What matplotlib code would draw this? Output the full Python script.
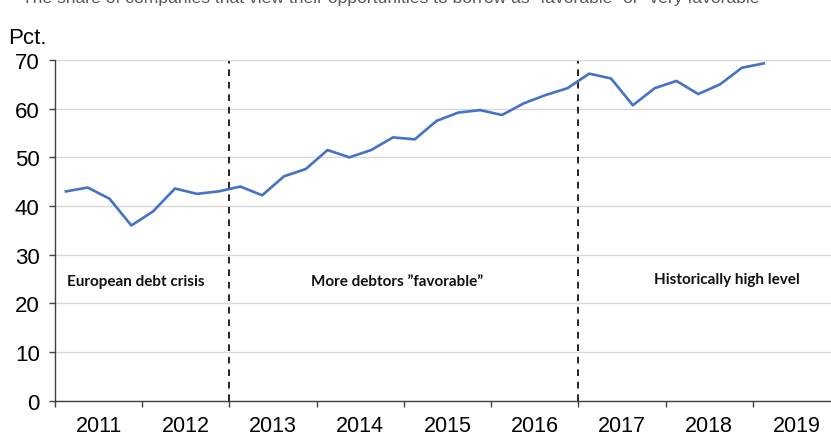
import matplotlib
matplotlib.use('Agg')
import matplotlib.pyplot as plt
import numpy as np

# quarterly share of companies, 2011Q1 - 2019Q1
share = [43.0, 43.8, 41.5, 36.0, 38.9, 43.6, 42.5, 43.0,
         44.0, 42.2, 46.1, 47.6, 51.5, 50.0, 51.5, 54.1,
         53.7, 57.5, 59.2, 59.7, 58.7, 61.1, 62.8, 64.2,
         67.2, 66.2, 60.7, 64.2, 65.7, 63.0, 65.0, 68.4,
         69.3]
years = ['2011', '2012', '2013', '2014', '2015', '2016', '2017', '2018', '2019']
breaks = [8, 24]  # quarters where the regimes change
phases = ['European debt crisis', 'More debtors \u201dfavorable\u201d', 'Historically high level']
phase_x = [3.7, 15.7, 30.8]
phase_y = [24.6, 24.6, 25.0]

plt.rcParams['font.family'] = ['Liberation Sans', 'DejaVu Sans']

W, H = 831, 435
fig = plt.figure(figsize=(W / 100, H / 100), dpi=100)
left, right, bottom, top = 55, 840, 401.7, 61
ax = fig.add_axes([left / W, (H - bottom) / H, (right - left) / W, (bottom - top) / H])

q = np.arange(len(share)) + 0.5
ax.plot(q, share, color='#4472C4', lw=1.9, solid_joinstyle='round', zorder=3)

for b in breaks:
    ax.plot([b, b], [0, 69.7], color='black', lw=1.2, dashes=(4, 3.5), zorder=2)

for txt, x, y in zip(phases, phase_x, phase_y):
    ax.text(x, y, txt, ha='center', va='center', fontsize=11,
            fontweight='bold', family=['Lato', 'DejaVu Sans'], color='#111111')

ax.set_xlim(0, 36)
ax.set_ylim(0, 70)
ax.set_yticks(range(0, 71, 10))
ax.yaxis.grid(True, color='#d9d9d9', lw=1)
ax.set_axisbelow(True)

ax.set_xticks(np.arange(0, 37, 4))
ax.set_xticklabels([])
ax.set_xticks(np.arange(2, 36, 4), minor=True)
ax.set_xticklabels(years, minor=True)
ax.tick_params(axis='x', which='major', direction='out', length=4, width=1, color='#404040')
ax.tick_params(axis='x', which='minor', length=0, pad=10, labelsize=15.5)
ax.tick_params(axis='y', direction='out', length=4, width=1, color='#404040', labelsize=16, pad=7)

for s in ['top', 'right']:
    ax.spines[s].set_visible(False)
for s in ['left', 'bottom']:
    ax.spines[s].set_color('#404040')
    ax.spines[s].set_linewidth(1)

fig.text(8 / W, 1 - 38 / H, 'Pct.', fontsize=16, va='center', ha='left')
fig.text(22 / W, 1 - 3 / H,
         'The share of companies that view their opportunities to borrow as \u201dfavorable\u201d or \u201dvery favorable\u201d',
         fontsize=12.6, va='baseline', ha='left', color='#595959')

fig.savefig('out.png', dpi=100)
